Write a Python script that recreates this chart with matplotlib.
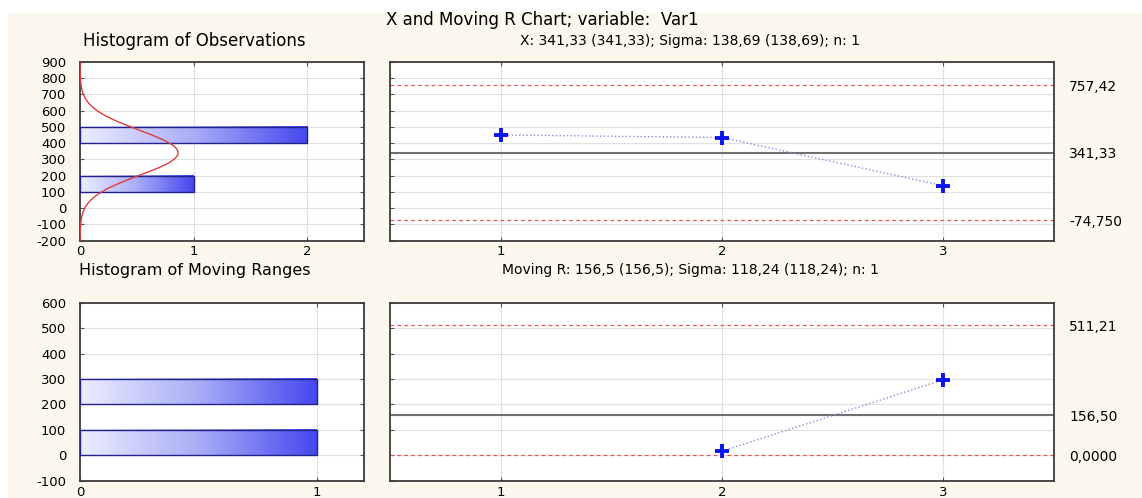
import numpy as np
import matplotlib as mpl
mpl.use('Agg')
import matplotlib.pyplot as plt
from matplotlib.colors import LinearSegmentedColormap
from matplotlib.patches import Rectangle

plt.rcParams['font.family'] = ['DejaVu Sans']
plt.rcParams['axes.unicode_minus'] = False

# data
samples = [1, 2, 3]
obs = [451, 435, 138]
mr_samples = [2, 3]
mr_vals = [16, 297]

x_cl, x_ucl, x_lcl = 341.33, 757.42, -74.75
x_sigma = 138.69
mr_cl, mr_ucl, mr_lcl = 156.5, 511.21, 0.0
x_lim_labels = ['757,42', '341,33', '-74,750']
mr_lim_labels = ['511,21', '156,50', '0,0000']

main_title = 'X and Moving R Chart; variable:  Var1'
x_subtitle = 'X: 341,33 (341,33); Sigma: 138,69 (138,69); n: 1'
mr_subtitle = 'Moving R: 156,5 (156,5); Sigma: 118,24 (118,24); n: 1'

W, H = 1142, 498
bg = '#fbf7ec'
grid_c = '#e0e0e0'
spine_c = '#3c3c3c'
fs_tick = 9.5

fig = plt.figure(figsize=(W/100, H/100), dpi=100, facecolor=bg)
fig.add_artist(Rectangle((0, 1-12/H), 1, 12/H, transform=fig.transFigure,
                         color='white', zorder=-1))
fig.add_artist(Rectangle((0, 0), 7/W, 1, transform=fig.transFigure,
                         color='white', zorder=-1))

def box(x0, y0, x1, y1):
    return [x0/W, 1-y1/H, (x1-x0)/W, (y1-y0)/H]

ax_h1 = fig.add_axes(box(80, 62, 364, 240.7))
ax_x = fig.add_axes(box(390, 62, 1054, 240.7))
ax_h2 = fig.add_axes(box(80, 302.7, 364, 480.7))
ax_mr = fig.add_axes(box(390, 302.7, 1054, 480.7))

bar_cmap = LinearSegmentedColormap.from_list('bar', ['#eceefd', '#a9adf6', '#4548ee'])

def style(ax, xpad):
    ax.set_facecolor('white')
    for s in ax.spines.values():
        s.set_color(spine_c)
        s.set_linewidth(1.3)
    ax.tick_params(direction='in', length=3, width=0.8, color='#555555',
                   top=True, right=True, labelsize=fs_tick)
    ax.tick_params(axis='y', pad=10)
    ax.tick_params(axis='x', pad=xpad)
    ax.grid(True, color=grid_c, linewidth=0.8)
    ax.set_axisbelow(True)

def gradient_hist(ax, values, edges):
    counts, edges = np.histogram(values, bins=edges)
    for c, lo, hi in zip(counts, edges[:-1], edges[1:]):
        if c == 0:
            continue
        grad = np.linspace(0, 1, 256).reshape(1, -1)
        ax.imshow(grad, extent=[0, c, lo, hi], aspect='auto', cmap=bar_cmap,
                  origin='lower', zorder=2)
        ax.add_patch(Rectangle((0, lo), c, hi-lo, fill=False,
                               edgecolor='#22228a', linewidth=1.0, zorder=3))

# histogram of observations
style(ax_h1, 3)
gradient_hist(ax_h1, obs, np.arange(-200, 1000, 100))
yy = np.linspace(-200, 900, 400)
curve = len(obs)*100*np.exp(-0.5*((yy-x_cl)/x_sigma)**2)/(x_sigma*np.sqrt(2*np.pi))
ax_h1.plot(curve, yy, color='#e03c3c', linewidth=1.0, zorder=4)
ax_h1.set_xlim(0, 2.5)
ax_h1.set_ylim(-200, 900)
ax_h1.set_xticks([0, 1, 2])
ax_h1.set_yticks(np.arange(-200, 901, 100))

# histogram of moving ranges
style(ax_h2, 4)
gradient_hist(ax_h2, mr_vals, np.arange(-100, 700, 100))
ax_h2.set_xlim(0, 1.2)
ax_h2.set_ylim(-100, 600)
ax_h2.set_xticks([0, 1])
ax_h2.set_yticks(np.arange(-100, 601, 100))

def control(ax, xs, ys, cl, ucl, lcl, labels, ylim, step, xpad):
    style(ax, xpad)
    ax.tick_params(labelleft=False)
    ax.axhline(cl, color='#707070', linewidth=1.5, zorder=2)
    for v in (ucl, lcl):
        ax.axhline(v, color='#e05a5a', linewidth=0.9, linestyle=(0, (3, 2.5)), zorder=2)
    ax.plot(xs, ys, color='#8a8ad8', linewidth=1.0, linestyle=':', zorder=3)
    ax.plot(xs, ys, linestyle='none', marker='+', markersize=10,
            markeredgewidth=2.8, color='#0a14f0', zorder=4)
    ax.set_xlim(0.5, 3.5)
    ax.set_ylim(*ylim)
    ax.set_xticks(samples)
    ax.set_yticks(np.arange(ylim[0], ylim[1]+1, step))
    ax2 = ax.twinx()
    ax2.set_ylim(*ylim)
    ax2.set_yticks([ucl, cl, lcl])
    ax2.set_yticklabels(labels)
    ax2.tick_params(length=0, pad=11, labelsize=fs_tick+0.5)
    for s in ax2.spines.values():
        s.set_visible(False)

control(ax_x, samples, obs, x_cl, x_ucl, x_lcl, x_lim_labels, (-200, 900), 100, 3)
control(ax_mr, mr_samples, mr_vals, mr_cl, mr_ucl, mr_lcl, mr_lim_labels, (-100, 600), 100, 4)

fig.text(542/W, 1-20/H, main_title, ha='center', va='center', fontsize=12)
fig.text(194/W, 1-41/H, 'Histogram of Observations', ha='center', va='center', fontsize=12)
fig.text(195/W, 1-270/H, 'Histogram of Moving Ranges', ha='center', va='center', fontsize=11.5)
fig.text(690/W, 1-41/H, x_subtitle, ha='center', va='center', fontsize=10)
fig.text(690/W, 1-270/H, mr_subtitle, ha='center', va='center', fontsize=10)

plt.savefig('out.png', dpi=100, facecolor=bg)
